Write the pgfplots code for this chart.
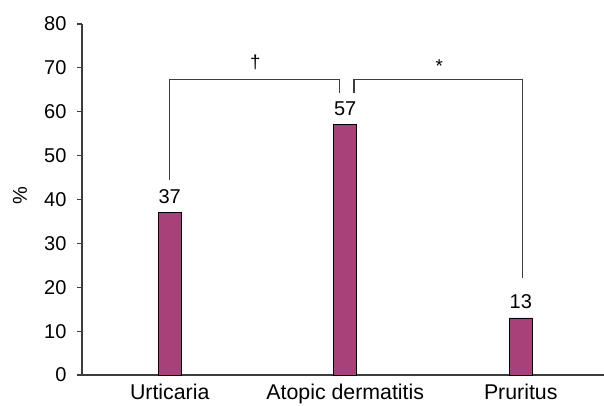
\documentclass[border=0pt]{standalone}
\usepackage{pgfplots}
\pgfplotsset{compat=1.18}
\usepackage{fontspec}
\setmainfont{Liberation Sans}
\definecolor{barc}{RGB}{168,65,122}
\definecolor{axc}{RGB}{60,60,60}
\begin{document}
\fontsize{15}{18}\selectfont
\begin{tikzpicture}
\begin{axis}[
  x=131.625pt, y=3.2906pt,
  xmin=0.5, xmax=3.5, ymin=0, ymax=80,
  axis x line=bottom, axis y line=left,
  axis line style={-, axc, line width=1.1pt},
  tick align=outside,
  ytick={0,10,...,80},
  major tick length=3.9pt,
  minor tick length=3.9pt,
  xtick={1,2,3},
  xticklabels={Urticaria,Atopic dermatitis,Pruritus},
  xtick style={draw=none},
  minor xtick={0.5,1.5,2.5,3.5},
  minor x tick style={axc, line width=0.9pt},
  ytick style={axc, line width=0.9pt},
  /pgf/number format/assume math mode=true,
  yticklabel style={font=\fontsize{15}{18}\selectfont, xshift=-2.6pt},
  xticklabel style={font=\fontsize{16}{19}\selectfont, yshift=2.2pt},
  ylabel={\%},
  ylabel style={at={(axis description cs:-0.118,0.51)}, anchor=center, font=\fontsize{15}{18}\selectfont},
  clip=false,
]
\addplot[ybar, bar width=17.25pt, fill=barc, draw=black, line width=0.7pt,
  nodes near coords, every node near coord/.append style={font=\fontsize{15}{18}\selectfont, yshift=1.5pt}]
  coordinates {(1,37) (2,57) (3,13)};
\draw[axc, line width=1.1pt] (axis cs:1,44.4) -- (axis cs:1,67.4) -- (axis cs:1.966,67.4) -- (axis cs:1.966,64.2);
\draw[axc, line width=1.1pt] (axis cs:2.051,64.2) -- (axis cs:2.051,67.4) -- (axis cs:3.011,67.4) -- (axis cs:3.011,22.1);
\node[font=\fontsize{14}{16}\selectfont] at (axis cs:1.487,71.2) {†};
\node[font=\fontsize{14}{16}\selectfont] at (axis cs:2.536,70.4) {*};
\end{axis}
\pgfresetboundingbox
\path[use as bounding box] (-61.5pt,-22.5pt) rectangle (391.5pt,281.25pt);
\end{tikzpicture}
\end{document}
